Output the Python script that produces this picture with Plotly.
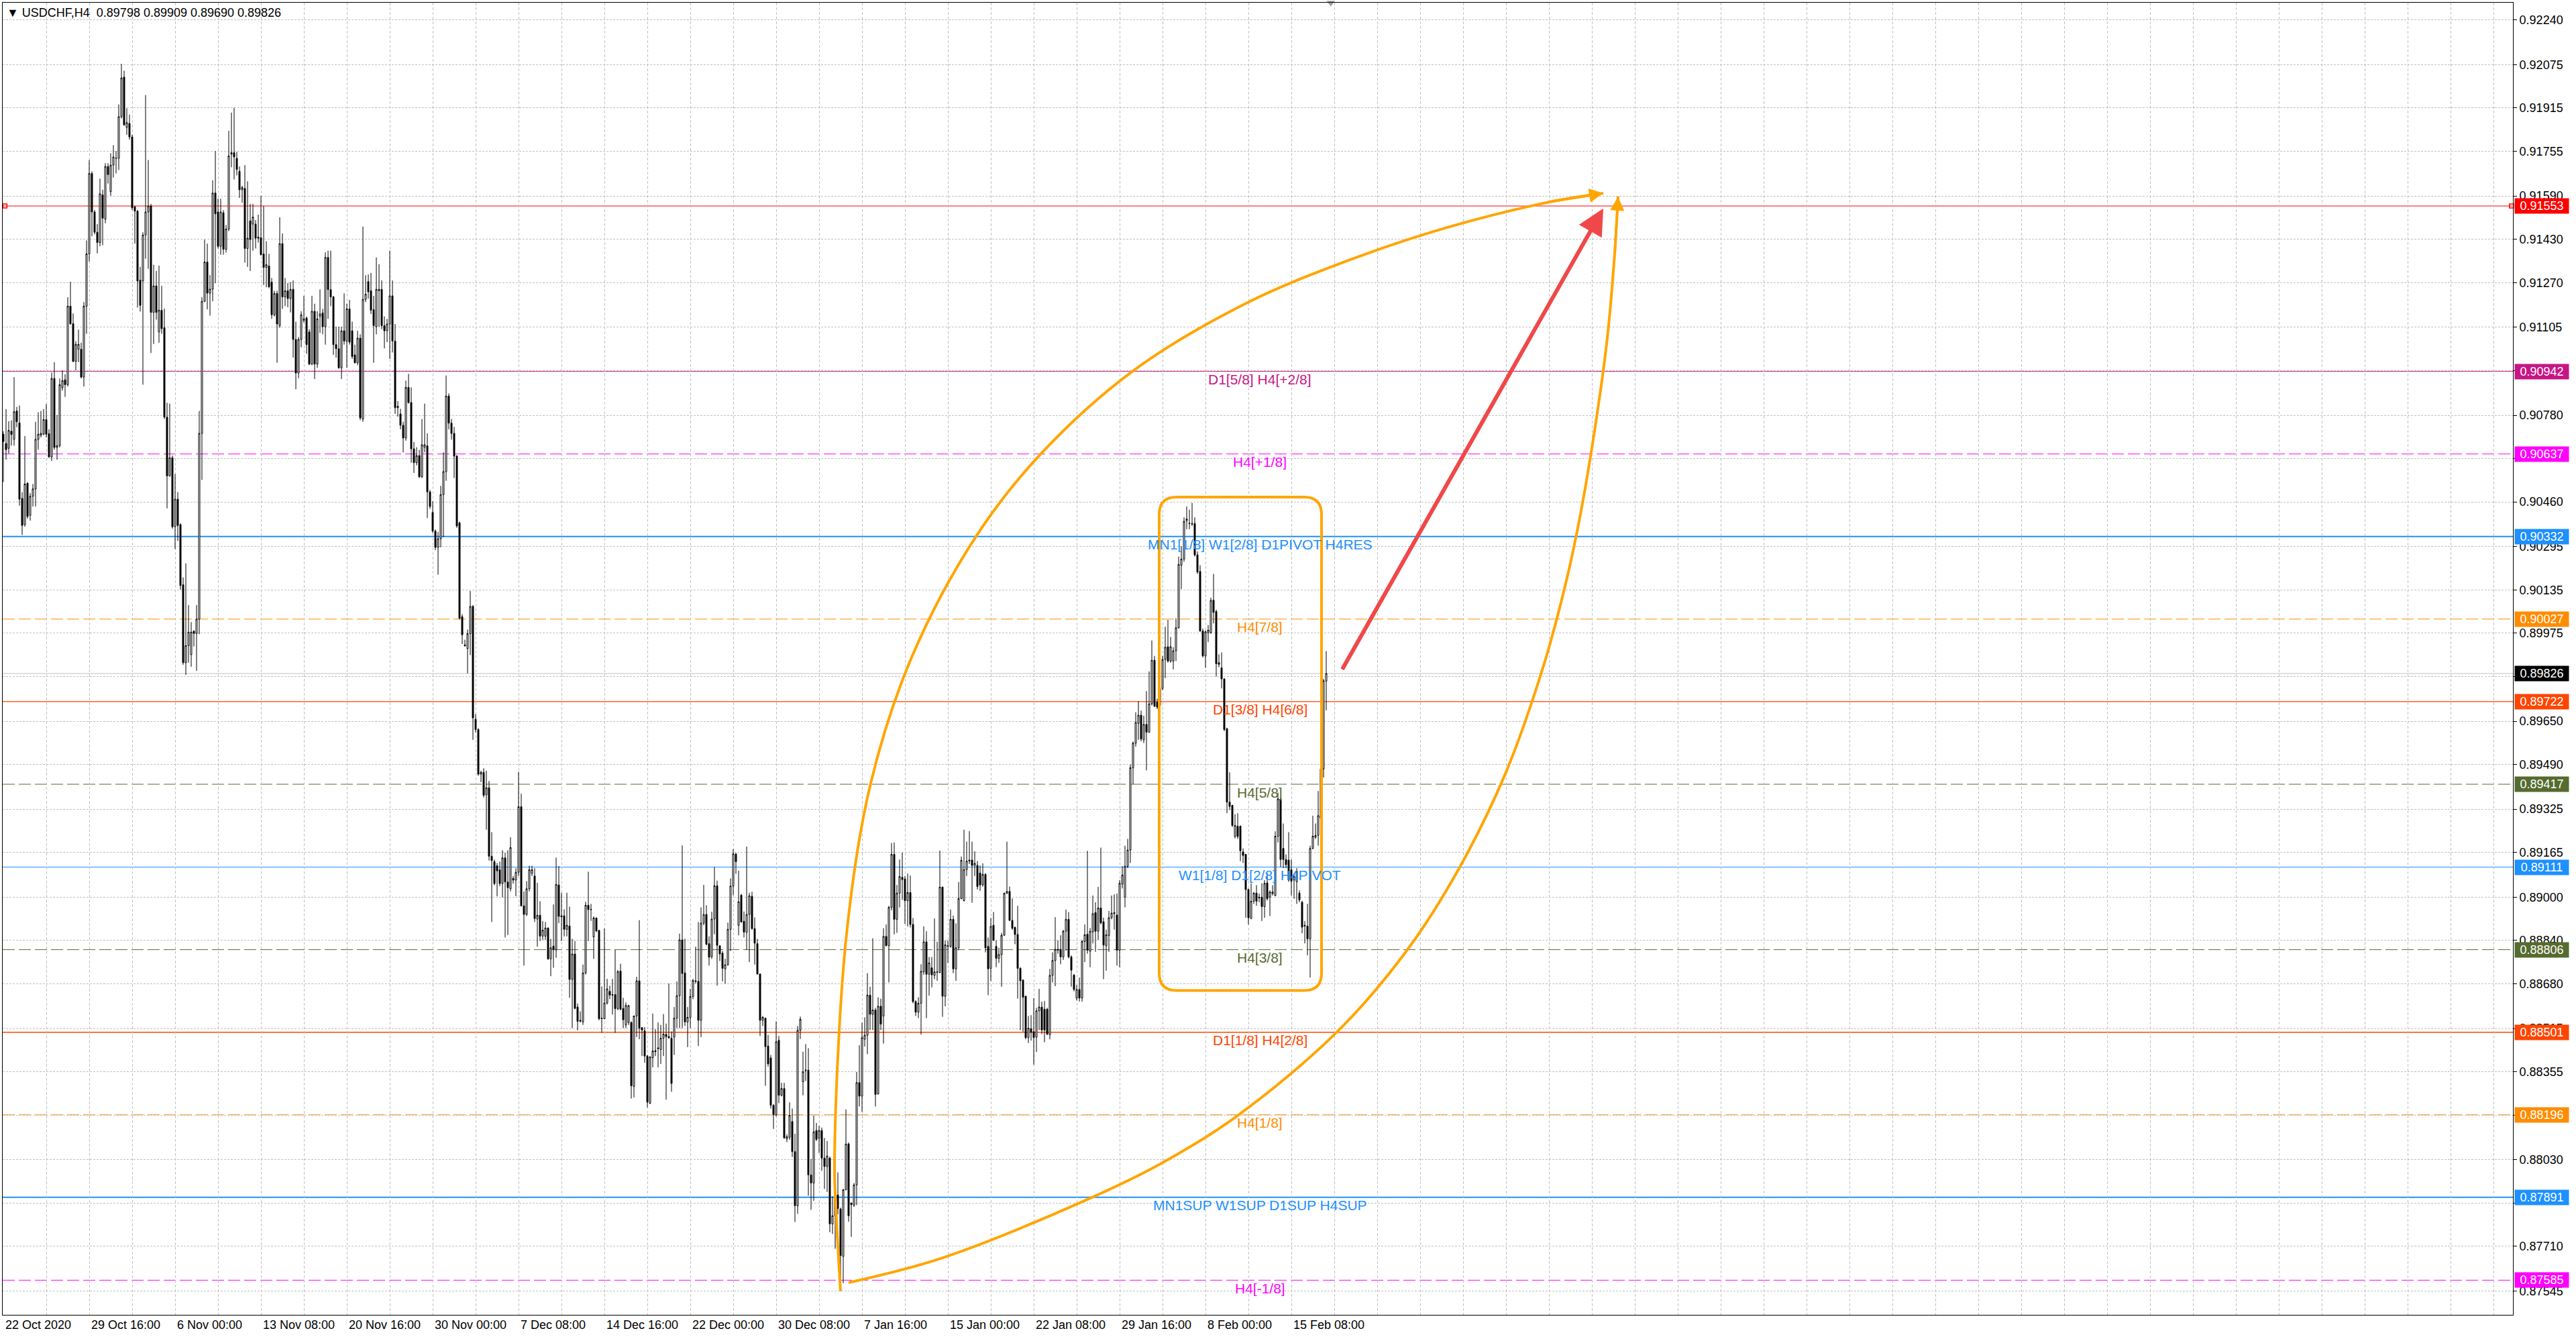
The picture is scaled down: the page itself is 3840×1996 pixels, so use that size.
import plotly.graph_objects as go

# ---------------- DATA (prices in 1e-5 units, H4 bars) ----------------
open_pts = [
90710,90676,90658,90721,90691,90796,90752,90473,90376,90529,
90410,90481,90508,90691,90706,90710,90764,90712,90626,90916,
90661,90668,90882,90911,90893,91183,91118,90979,91024,91024,
90921,91183,91376,91673,91531,91456,91418,91594,91504,91699,
91606,91704,91729,91729,91883,92029,91843,91858,91808,91550,
91534,91279,91276,91446,91531,91553,91160,91258,91088,91168,
91103,90773,90556,90623,90368,90470,90376,90154,89866,89929,
89896,89982,89974,90027,90713,91201,91346,91231,91246,91601,
91531,91404,91528,91393,91468,91744,91750,91729,91681,91613,
91618,91396,91498,91486,91486,91438,91436,91376,91326,
91331,91272,91151,91230,91111,91414,91217,91240,91211,91245,
91060,90936,91060,91130,91139,91088,90969,91164,90969,91145,
91158,91107,91363,91244,91217,91041,91026,90955,91092,91054,
91173,91092,91003,90974,91065,90766,91208,91274,91240,91170,
91107,91240,91245,91111,91092,91117,91221,91054,90813,90785,
90743,90696,90883,90827,90656,90605,90631,90553,90662,90667,
90497,90421,90352,90292,90324,90487,90572,90851,90751,90713,
90629,90383,90036,89932,89918,89973,90074,89657,89619,89454,
89461,89378,89404,89151,89131,89116,89101,89050,89145,89056,
89031,89069,89063,89092,89334,88968,88936,89031,89088,89078,
88919,88933,88856,88856,88886,88772,88819,88805,89045,88931,
88931,88881,88893,88696,88790,88594,88545,88539,88720,88970,
88955,88853,88923,88877,88553,88551,88609,88652,88640,88640,
88588,88727,88589,88528,88537,88537,88301,88561,88691,88518,
88506,88413,88239,88407,88433,88440,88437,88479,88493,88485,
88479,88483,88553,88636,88842,88720,88539,88556,88633,88691,
88689,88545,88904,88936,88828,88780,88919,89042,88820,88793,
88735,88750,88881,89041,89159,88896,89007,88911,88870,88936,
89003,88884,88828,88716,88545,88553,88450,88406,88231,88196,
88471,88268,88293,88107,88113,88171,88060,87860,88508,88318,
88359,88361,87974,87944,88138,88110,88138,88036,88005,88036,
87793,87823,87900,87848,87673,87919,88088,87870,87862,87937,
88315,88265,88475,88490,88638,88567,88583,88273,88597,88561,
88855,88821,88962,89158,88918,89015,89073,89067,88987,89017,
88899,88614,88575,88608,88724,88835,88715,88739,88711,88722,
88722,89037,88634,88818,88818,88918,88735,88813,88995,88987,
89102,89133,89137,89117,89117,89089,89045,89084,88818,88737,
88896,88818,88774,88788,88859,89014,89021,88914,88888,88862,
88737,88693,88634,88481,88514,88503,88483,88580,88594,88586,
88586,88492,88711,88766,88807,88807,88779,88874,88918,88779,
88712,88627,88659,88627,88836,88863,88800,88871,88943,88874,
88960,88909,88820,88858,88924,88939,88934,88804,89048,89000,
89114,89174,89478,89569,89642,89672,89581,89638,89609,89714,
89875,89720,89708,89771,89878,89925,89872,89872,89910,89995,
90226,90249,90390,90380,90380,90380,90264,90203,89983,89891,
89976,89976,90097,90055,89866,89847,89806,89622,89351,89339,
89224,89262,89262,89167,89158,89028,88922,88985,89015,88997,
89000,88965,89053,89000,89013,89006,89225,89363,89180,89139,
89137,89101,89063,89057,89015,88981,88896,88893,88846,89180,
89221,89228,89291,89474,89798]

high_pts = [
90721,90803,90758,90761,90921,90811,90816,90496,90703,90533,
90493,90526,90756,90791,90796,90803,90821,90728,90938,90976,
90781,90916,90946,90931,91216,91273,91156,91054,91096,91048,
91198,91426,91723,91681,91538,91486,91654,91613,91711,91711,
91748,91778,91756,91928,92078,92053,91914,91891,91816,91553,
91538,91328,91456,91963,91723,91561,91336,91313,91333,91258,
91174,90826,90823,90631,90563,90496,90381,90181,90233,90079,
90016,89986,90079,90796,91216,91429,91414,91298,91648,91756,
91580,91580,91538,91483,91831,91898,91916,91753,91699,91628,
91704,91644,91561,91561,91501,91521,91591,91553,91423,
91376,91287,91240,91240,91511,91452,91287,91268,91272,91278,
91126,91069,91164,91221,91145,91098,91221,91192,91164,91245,
91173,91382,91388,91388,91221,91107,91107,91107,91230,91192,
91206,91126,91041,91092,91079,91477,91297,91300,91306,91221,
91363,91338,91278,91145,91136,91388,91278,91117,90832,90804,
90756,90908,90933,90883,90681,90662,90652,90766,90823,90713,
90504,90462,90358,90349,90519,90643,90927,90861,90766,90737,
90633,90387,90045,89951,89988,90131,90079,89676,89624,89467,
89476,89467,89429,89240,89139,89126,89131,89173,89164,89173,
89221,89078,89107,89463,89382,89021,89059,89116,89116,89107,
89053,88985,88912,88908,88888,88846,88973,89146,89115,89016,
88955,89016,88965,88846,88838,88607,88578,88751,88983,89094,
88975,88929,88925,88879,88670,88884,88698,88673,88698,88805,
88731,88754,88628,88611,88603,88541,88563,88706,88915,88520,
88520,88417,88413,88570,88512,88537,88528,88568,88533,88681,
88504,88594,88689,88865,89191,88846,88594,88661,88698,88817,
88908,88962,89045,88970,88855,88946,89111,89061,88823,88801,
88772,88906,89069,89177,89164,89098,89012,88947,89187,89016,
89020,88925,88846,88718,88561,88555,88491,88417,88235,88541,
88487,88314,88314,88124,88242,88219,88126,88524,88559,88429,
88457,88442,88033,88193,88166,88155,88149,88110,88099,88041,
87895,87972,87983,87853,87922,88216,88094,87872,87944,88354,
88453,88536,88556,88719,88669,88848,88591,88630,88625,88885,
88899,88968,89200,89202,89045,89139,89164,89078,89087,89080,
88923,88619,88630,88752,88892,88874,88779,88779,88921,88835,
89172,89039,88840,88840,88954,88932,88903,89056,89150,89249,
89205,89244,89205,89169,89133,89117,89125,89089,88851,88923,
88945,88840,88813,88868,89017,89205,89039,88995,88892,88968,
88741,88697,88636,88561,88564,88627,88591,88661,88614,88616,
88591,88735,88796,88926,88840,88859,88879,88954,88945,88785,
88716,88675,88703,88842,88899,89171,88886,89006,88981,89038,
89183,88924,88880,88949,89006,89010,89013,89063,89114,89190,
89215,89490,89575,89683,89724,89689,89670,89761,89834,89948,
89891,89733,89809,89891,89999,90024,89961,89923,90030,90258,
90296,90403,90443,90431,90456,90403,90277,90226,89992,89986,
90005,90106,90194,90062,89897,89904,89809,89626,89461,89341,
89306,89310,89265,89180,89158,89032,89051,89019,89044,89013,
89051,89063,89088,89025,89044,89243,89386,89367,89272,89158,
89240,89139,89088,89107,89025,88987,88912,88975,89190,89301,
89272,89392,89483,89806,89909]

low_pts = [
90533,90616,90638,90668,90668,90736,90446,90338,90368,90398,
90391,90443,90443,90653,90698,90706,90698,90623,90611,90653,
90616,90661,90871,90848,90886,91114,90976,90946,90976,90916,
90886,91081,91348,91441,91448,91378,91404,91408,91489,91636,
91591,91658,91673,91686,91876,91849,91816,91798,91538,91414,
91178,91163,90893,91358,91321,91010,91043,91133,91048,91081,
90766,90436,90553,90361,90286,90316,90136,89858,89821,89866,
89851,89926,89836,89971,90541,91198,91171,91148,91201,91268,
91396,91373,91373,91381,91460,91696,91651,91666,91583,91565,
91344,91328,91313,91388,91396,91418,91370,91261,91253,
91249,91136,91145,90974,91103,91173,91183,91179,91160,90993,
90876,90917,91031,91122,91007,90965,90965,90914,90955,91084,
91079,91041,91136,91183,91003,90993,90952,90914,91041,90955,
91041,90988,90971,90965,90762,90756,91198,91211,91154,90974,
91079,91107,91098,91027,91050,90988,91012,90785,90775,90728,
90643,90686,90823,90605,90567,90595,90548,90548,90643,90400,
90434,90345,90282,90191,90292,90330,90538,90728,90690,90548,
90364,90026,89935,89926,89827,89894,89581,89609,89448,89425,
89368,89249,89135,88908,89044,89003,89040,88999,88851,88860,
89021,89050,89003,89078,88965,88747,88930,89021,89078,88908,
88817,88838,88842,88842,88768,88708,88739,88776,88904,88838,
88855,88855,88628,88516,88586,88508,88537,88528,88714,88838,
88912,88772,88871,88545,88499,88549,88603,88623,88566,88499,
88582,88582,88516,88516,88528,88256,88260,88483,88475,88413,
88388,88223,88235,88371,88413,88371,88384,88413,88252,88479,
88281,88417,88516,88516,88516,88524,88446,88516,88623,88681,
88450,88483,88896,88822,88747,88772,88863,88673,88764,88689,
88681,88747,88801,89007,89086,88859,88906,88851,88805,88760,
88879,88751,88714,88487,88524,88303,88374,88219,88144,88190,
88239,88264,88107,88095,88103,88040,87800,87830,88476,88268,
88321,87897,87845,87878,88099,88055,87989,87922,87911,87762,
87756,87701,87828,87574,87574,87917,87801,87745,87856,87862,
88227,88207,88448,88420,88509,88509,88227,88271,88509,88459,
88818,88685,88951,88862,88868,88962,88990,88901,88892,88888,
88608,88561,88553,88492,88713,88553,88636,88667,88697,88691,
88719,88558,88597,88757,88813,88719,88691,88804,88992,88984,
89078,89122,88979,89078,89028,89023,89039,88796,88638,88691,
88840,88741,88757,88669,88857,89012,88912,88879,88826,88625,
88509,88503,88475,88461,88470,88381,88428,88509,88494,88464,
88490,88475,88685,88671,88791,88752,88768,88802,88774,88669,
88652,88618,88614,88614,88760,88791,88741,88829,88798,88842,
88899,88697,88728,88798,88918,88880,88747,88741,89032,88962,
89107,89126,89417,89556,89581,89575,89569,89468,89607,89708,
89702,89695,89702,89765,89809,89866,89866,89841,89872,89992,
90138,90239,90359,90359,90371,90258,90194,89980,89885,89847,
89942,89973,90011,89815,89849,89771,89613,89310,89322,89259,
89217,89215,89133,89126,88924,88899,88918,88975,88968,88981,
88912,88924,88987,88930,89006,89003,89202,89111,89107,89107,
89057,89006,88994,88975,88981,88867,88829,88785,88703,89177,
89215,89190,89284,89442,89690]

close_pts = [
90683,90653,90724,90709,90793,90756,90470,90373,90526,90406,
90481,90508,90691,90710,90713,90764,90710,90626,90916,90661,
90668,90893,90908,90893,91183,91118,90979,91042,91042,90921,
91183,91376,91673,91531,91456,91418,91598,91508,91699,91669,
91704,91734,91730,91883,92026,91853,91861,91808,91546,91534,
91276,91186,91446,91531,91553,91160,91258,91160,91168,91100,
90773,90556,90623,90368,90470,90373,90151,89866,89929,89979,
89979,89974,90027,90713,91201,91346,91231,91246,91601,91524,
91404,91531,91393,91468,91738,91750,91734,91688,91613,91621,
91396,91434,91429,91512,91434,91434,91373,91326,91336,
91255,91151,91230,91117,91414,91217,91240,91211,91245,91060,
90936,91060,91151,91136,91041,90969,91164,90969,91136,91154,
91107,91363,91244,91217,91041,91026,90955,91092,91054,91173,
91050,90997,90974,91065,90770,91208,91227,91236,91168,91111,
91245,91245,91111,91092,91117,91221,91054,90808,90808,90743,
90696,90883,90827,90656,90605,90631,90553,90671,90671,90497,
90443,90352,90292,90324,90487,90572,90851,90751,90713,90629,
90371,90030,89969,89928,89973,90074,89662,89619,89454,89461,
89376,89404,89151,89135,89050,89097,89050,89145,89056,89035,
89183,89063,89092,89334,88968,88936,89031,89101,89101,88921,
88933,88856,88878,88886,88772,88813,88807,89047,88929,88927,
88881,88896,88696,88790,88589,88541,88542,88720,88970,88954,
88954,88923,88875,88551,88551,88609,88661,88638,88638,88588,
88725,88586,88547,88600,88599,88303,88561,88691,88516,88509,
88413,88243,88409,88432,88429,88443,88479,88494,88485,88480,
88312,88553,88636,88842,88718,88539,88556,88633,88692,88689,
88545,88904,88936,88826,88778,88919,89042,88822,88790,88737,
88750,88881,89041,89160,89131,88983,88908,88871,88936,89005,
88884,88830,88716,88545,88556,88448,88384,88231,88196,88466,
88268,88293,88111,88115,88194,88060,87860,88508,88549,88355,
88361,87974,87944,88133,88105,88138,88036,88005,88044,87793,
87823,87900,87850,87676,87919,88088,87823,87864,87937,88315,
88265,88481,88490,88638,88567,88583,88271,88597,88531,88855,
88821,88962,89158,88918,89015,89076,89065,88987,89017,88899,
88614,88575,88608,88726,88835,88715,88757,88713,88724,88724,
89037,88634,88824,88821,88918,88735,88813,88995,89136,89102,
89133,89137,89117,89125,89039,89045,89084,88813,88735,88892,
88840,88774,88788,88859,89014,89021,88914,88885,88862,88737,
88691,88630,88481,88516,88501,88481,88580,88594,88509,88509,
88494,88711,88766,88807,88804,88779,88874,88918,88779,88730,
88659,88659,88627,88836,88861,88804,88874,88939,88874,88960,
88905,88823,88861,88924,88941,88943,88804,89051,89082,89114,
89174,89478,89569,89645,89672,89584,89638,89609,89714,89875,
89705,89702,89771,89878,89923,89872,89925,89910,89995,90229,
90249,90388,90397,90381,90378,90264,90201,89983,89891,89980,
89986,90096,90052,89862,89860,89806,89619,89351,89335,89265,
89265,89224,89171,89154,89028,88924,88985,89015,88985,89000,
88965,89051,88994,89019,89019,89225,89363,89139,89139,89120,
89063,89059,89076,89095,88990,88889,88893,88846,89180,89225,
89228,89301,89474,89799,89826]

date_labels = ["22 Oct 2020", "29 Oct 16:00", "6 Nov 00:00", "13 Nov 08:00",
               "20 Nov 16:00", "30 Nov 00:00", "7 Dec 08:00", "14 Dec 16:00",
               "22 Dec 00:00", "30 Dec 08:00", "7 Jan 16:00", "15 Jan 00:00",
               "22 Jan 08:00", "29 Jan 16:00", "8 Feb 00:00", "15 Feb 08:00"]
bars_per_label = 32

price_ticks = [0.92240, 0.92075, 0.91915, 0.91755, 0.91590, 0.91430, 0.91270,
               0.91105, 0.90945, 0.90780, 0.90620, 0.90460, 0.90295, 0.90135,
               0.89975, 0.89815, 0.89650, 0.89490, 0.89325, 0.89165, 0.89000,
               0.88840, 0.88680, 0.88515, 0.88355, 0.88195, 0.88030, 0.87870,
               0.87710, 0.87545]
# tick labels fully covered by the coloured price boxes in the reference
covered_ticks = [0.90945, 0.90620, 0.89815, 0.88195, 0.87870]

level_prices = [0.90942, 0.90637, 0.90332, 0.90027, 0.89722, 0.89417,
                0.89111, 0.88806, 0.88501, 0.88196, 0.87891, 0.87585]
level_texts = ["D1[5/8] H4[+2/8]", "H4[+1/8]", "MN1[1/8] W1[2/8] D1PIVOT H4RES",
               "H4[7/8]", "D1[3/8] H4[6/8]", "H4[5/8]", "W1[1/8] D1[2/8] H4PIVOT",
               "H4[3/8]", "D1[1/8] H4[2/8]", "H4[1/8]", "MN1SUP W1SUP D1SUP H4SUP",
               "H4[-1/8]"]
alert_price = 0.91553
symbol = "USDCHF,H4"

# drawn objects (bar index, price)
upper_arc_bar = [312.0, 310.5, 309.75, 314.15, 323.1, 338.5, 362.45, 386.5, 420.6,
                 462.2, 499.9, 538.2, 576.3, 596.25]
upper_arc_price = [0.87544, 0.87804, 0.88025, 0.88855, 0.89415, 0.89886, 0.90332,
                   0.90636, 0.90941, 0.91189, 0.91347, 0.91474, 0.91568, 0.91600]
lower_arc_bar = [315.0, 349.55, 404.6, 431.3, 459.7, 496.9, 523.2, 542.6, 559.8,
                 573.4, 581.15, 586.5, 592.1, 597.7, 600.5, 601.75]
lower_arc_price = [0.87576, 0.87666, 0.87886, 0.88015, 0.88191, 0.88501, 0.88805,
                   0.89108, 0.89457, 0.89836, 0.90114, 0.90351, 0.90666, 0.91062,
                   0.91378, 0.91588]
box_bars = [430.75, 491.25]
box_prices = [0.88655, 0.90478]
red_arrow_bars = [498.75, 596.25]
red_arrow_prices = [0.89838, 0.91544]

# ---------------- STYLE ----------------
FONT = "Liberation Sans, Arial, sans-serif"
LEVEL_COLORS = ["#C71585", "#FF00FF", "#1E90FF", "#FF8C00", "#FF4500", "#556B2F",
                "#1E90FF", "#556B2F", "#FF4500", "#FF8C00", "#1E90FF", "#FF00FF"]
LEVEL_DASH = ["solid", "18px,6px"] * 6
LEVEL_WIDTH = [1, 1, 2, 1, 1.3, 1, 1, 1, 1.5, 1, 2, 1]
LABEL_BAR = 468.25
ORANGE = "#FFA500"
GRID = "#C0C0C0"

W, H = 3840, 1996
ML, MR, MT, MB = 4, 94, 4, 36
X_RANGE = [-0.25, 935.25]
Y_RANGE = [0.87457, 0.92304]

sc = 1e-5
o = [v * sc for v in open_pts]
h = [v * sc for v in high_pts]
l = [v * sc for v in low_pts]
c = [v * sc for v in close_pts]
n = len(c)
xs = list(range(n))

fig = go.Figure()

fig.add_trace(go.Candlestick(
    x=xs, open=o, high=h, low=l, close=c,
    increasing=dict(line=dict(color="black", width=1), fillcolor="white"),
    decreasing=dict(line=dict(color="black", width=1), fillcolor="black"),
    whiskerwidth=0, hoverinfo="skip", showlegend=False))

shapes = []
for p, col, dsh, wd in zip(level_prices, LEVEL_COLORS, LEVEL_DASH, LEVEL_WIDTH):
    shapes.append(dict(type="line", xref="paper", x0=0, x1=1, yref="y", y0=p, y1=p,
                       line=dict(color=col, width=wd, dash=dsh), layer="below"))
shapes.append(dict(type="line", xref="paper", x0=0, x1=1, yref="y", y0=alert_price,
                   y1=alert_price, line=dict(color="#FF0000", width=1), layer="below"))
shapes.append(dict(type="line", xref="paper", x0=0, x1=1, yref="y", y0=c[-1], y1=c[-1],
                   line=dict(color="#C0C0C0", width=1), layer="below"))

# rounded rectangle
bx0, bx1 = box_bars
by0, by1 = box_prices
rx = 26 / 4.0
ry = 26 / 40360.0
path = (f"M {bx0+rx},{by1} L {bx1-rx},{by1} Q {bx1},{by1} {bx1},{by1-ry} "
        f"L {bx1},{by0+ry} Q {bx1},{by0} {bx1-rx},{by0} L {bx0+rx},{by0} "
        f"Q {bx0},{by0} {bx0},{by0+ry} L {bx0},{by1-ry} Q {bx0},{by1} {bx0+rx},{by1} Z")
shapes.append(dict(type="path", path=path, xref="x", yref="y",
                   line=dict(color=ORANGE, width=4), layer="above"))

for bx, py in ((upper_arc_bar, upper_arc_price), (lower_arc_bar, lower_arc_price)):
    fig.add_trace(go.Scatter(x=bx, y=py, mode="lines",
                             line=dict(color=ORANGE, width=4, shape="spline", smoothing=1.0),
                             hoverinfo="skip", showlegend=False))

fig.add_trace(go.Scatter(x=[0.6, 934.7], y=[alert_price, alert_price], mode="markers",
                         marker=dict(symbol="square-open", size=6, color="#FF0000",
                                     line=dict(width=1.5)),
                         hoverinfo="skip", showlegend=False, cliponaxis=False))
fig.add_trace(go.Scatter(x=[n + 0.7], y=[Y_RANGE[1]], mode="markers",
                         marker=dict(symbol="triangle-down", size=11, color="#A0A0A0"),
                         hoverinfo="skip", showlegend=False, cliponaxis=False))

ann = []
for p, t, col in zip(level_prices, level_texts, LEVEL_COLORS):
    ann.append(dict(x=LABEL_BAR, y=p, xref="x", yref="y", text=t, showarrow=False,
                    xanchor="center", yanchor="middle", yshift=-12,
                    font=dict(family=FONT, size=21, color=col)))

label_list = [(alert_price, "#FF0000")] + list(zip(level_prices, LEVEL_COLORS)) + [(c[-1], "#000000")]
for p, col in label_list:
    ann.append(dict(x=1, y=p, xref="paper", yref="y", text=f"{p:.5f}", showarrow=False,
                    xanchor="left", yanchor="middle", xshift=2, width=80, height=22,
                    align="center", bgcolor=col, borderpad=0,
                    font=dict(family=FONT, size=18, color="white")))

for k, t in enumerate(date_labels):
    ann.append(dict(x=k * bars_per_label, y=0, xref="x", yref="paper", text=t,
                    showarrow=False, xanchor="left", yanchor="top", yshift=-3, xshift=1,
                    font=dict(family=FONT, size=18, color="black")))

ann.append(dict(x=0, y=1, xref="paper", yref="paper",
                text=f"\u25BC {symbol}\u00a0 {o[-1]:.5f} {h[-1]:.5f} {l[-1]:.5f} {c[-1]:.5f}",
                showarrow=False, xanchor="left", yanchor="top", xshift=4, yshift=-3,
                font=dict(family=FONT, size=18, color="black")))

for bx, py in ((upper_arc_bar, upper_arc_price), (lower_arc_bar, lower_arc_price)):
    ann.append(dict(x=bx[-1], y=py[-1], ax=bx[-2], ay=py[-2], xref="x", yref="y",
                    axref="x", ayref="y", text="", showarrow=True, arrowhead=2,
                    arrowsize=1.2, arrowwidth=3.5, arrowcolor=ORANGE))
ann.append(dict(x=red_arrow_bars[1], y=red_arrow_prices[1], ax=red_arrow_bars[0],
                ay=red_arrow_prices[0], xref="x", yref="y", axref="x", ayref="y",
                text="", showarrow=True, arrowhead=2, arrowsize=1.3, arrowwidth=6,
                arrowcolor="#F04848"))

tick_text = ["" if any(abs(v - cv) < 1e-9 for cv in covered_ticks) else f"{v:.5f}"
             for v in price_ticks]

fig.update_layout(
    width=W, height=H,
    margin=dict(l=ML, r=MR, t=MT, b=MB),
    paper_bgcolor="white", plot_bgcolor="white",
    showlegend=False, shapes=shapes, annotations=ann,
    xaxis=dict(range=X_RANGE, tickmode="linear", tick0=0, dtick=16,
               showgrid=True, gridcolor=GRID, griddash="4px,3px", gridwidth=1,
               showticklabels=False, ticks="", zeroline=False,
               showline=True, linecolor="black", linewidth=1, mirror=True,
               rangeslider=dict(visible=False), fixedrange=True),
    yaxis=dict(range=Y_RANGE, side="right", tickmode="array", tickvals=price_ticks,
               ticktext=tick_text,
               showgrid=True, gridcolor=GRID, griddash="3px,2px", gridwidth=1,
               ticks="outside", ticklen=5, tickcolor="black",
               tickfont=dict(family=FONT, size=18, color="black"),
               zeroline=False, showline=True, linecolor="black", linewidth=1,
               mirror=True, fixedrange=True),
)

fig.write_html("out.html", config={"displayModeBar": False},
               post_script="document.body.style.margin='0';document.body.style.overflow='hidden';")
